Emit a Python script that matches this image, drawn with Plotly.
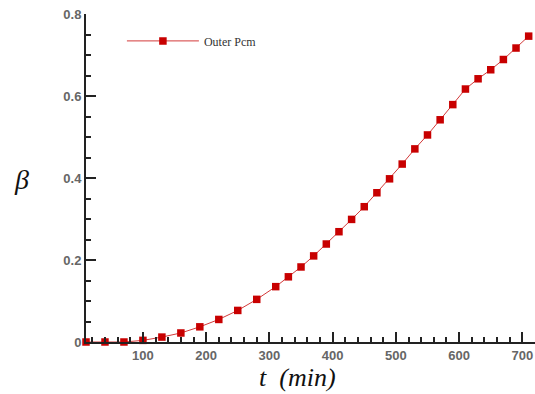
import plotly.graph_objects as go

# Melt fraction of the outer PCM over time
t_min = [10, 40, 70, 100, 130, 160, 190, 220, 250, 280, 310, 330, 350, 370, 390,
         410, 430, 450, 470, 490, 510, 530, 550, 570, 590, 610, 630, 650, 670,
         690, 710]
beta = [0.0, 0.0, 0.0, 0.004, 0.012, 0.022, 0.037, 0.055, 0.077, 0.104, 0.135,
        0.159, 0.183, 0.210, 0.239, 0.269, 0.299, 0.330, 0.364, 0.398, 0.434,
        0.471, 0.505, 0.542, 0.579, 0.617, 0.642, 0.664, 0.689, 0.717, 0.746]

y_ticks = [0, 0.2, 0.4, 0.6, 0.8]
y_ticklabels = ["0", "0.2", "0.4", "0.6", "0.8"]
x_ticks = [100, 200, 300, 400, 500, 600, 700]

fig = go.Figure()
fig.add_trace(go.Scatter(
    x=t_min, y=beta, mode="lines+markers", name="Outer Pcm",
    line=dict(color="#d33a3a", width=1),
    marker=dict(symbol="square", size=7.5, color="#c80000"),
    cliponaxis=False,
))

axis_common = dict(
    showline=True, linecolor="#222", linewidth=2, mirror=False,
    showgrid=False, zeroline=False,
    ticks="inside", ticklen=10, tickwidth=2, tickcolor="#222",
    tickfont=dict(family="Liberation Sans", size=13, color="#666", weight="bold"),
)

fig.update_xaxes(
    range=[10, 720], tickvals=x_ticks,
    minor=dict(dtick=20, tick0=0, ticks="inside", ticklen=5, tickwidth=1.5, tickcolor="#222"),
    **axis_common,
)
fig.update_yaxes(
    range=[0, 0.8], tickvals=y_ticks, ticktext=y_ticklabels,
    minor=dict(dtick=0.05, tick0=0, ticks="inside", ticklen=5, tickwidth=1.5, tickcolor="#222"),
    **axis_common,
)

fig.add_annotation(
    text="β", xref="paper", yref="paper", x=-0.165, y=0.495,
    showarrow=False, font=dict(family="Liberation Serif", size=28, color="#111", style="italic"),
)
fig.add_annotation(
    text="t  (min)", xref="paper", yref="paper", x=0.47, y=-0.107, yanchor="middle",
    showarrow=False, font=dict(family="Liberation Serif", size=26, color="#111", style="italic"),
)

fig.update_layout(
    width=535, height=394,
    margin=dict(l=86, r=0, t=14, b=52),
    paper_bgcolor="white", plot_bgcolor="white",
    showlegend=True,
    legend=dict(
        x=0.08, y=0.918, xanchor="left", yanchor="middle",
        itemwidth=72,
        font=dict(family="Liberation Serif", size=12, color="#333"),
        bgcolor="rgba(0,0,0,0)",
    ),
)

fig.write_html("out.html")
